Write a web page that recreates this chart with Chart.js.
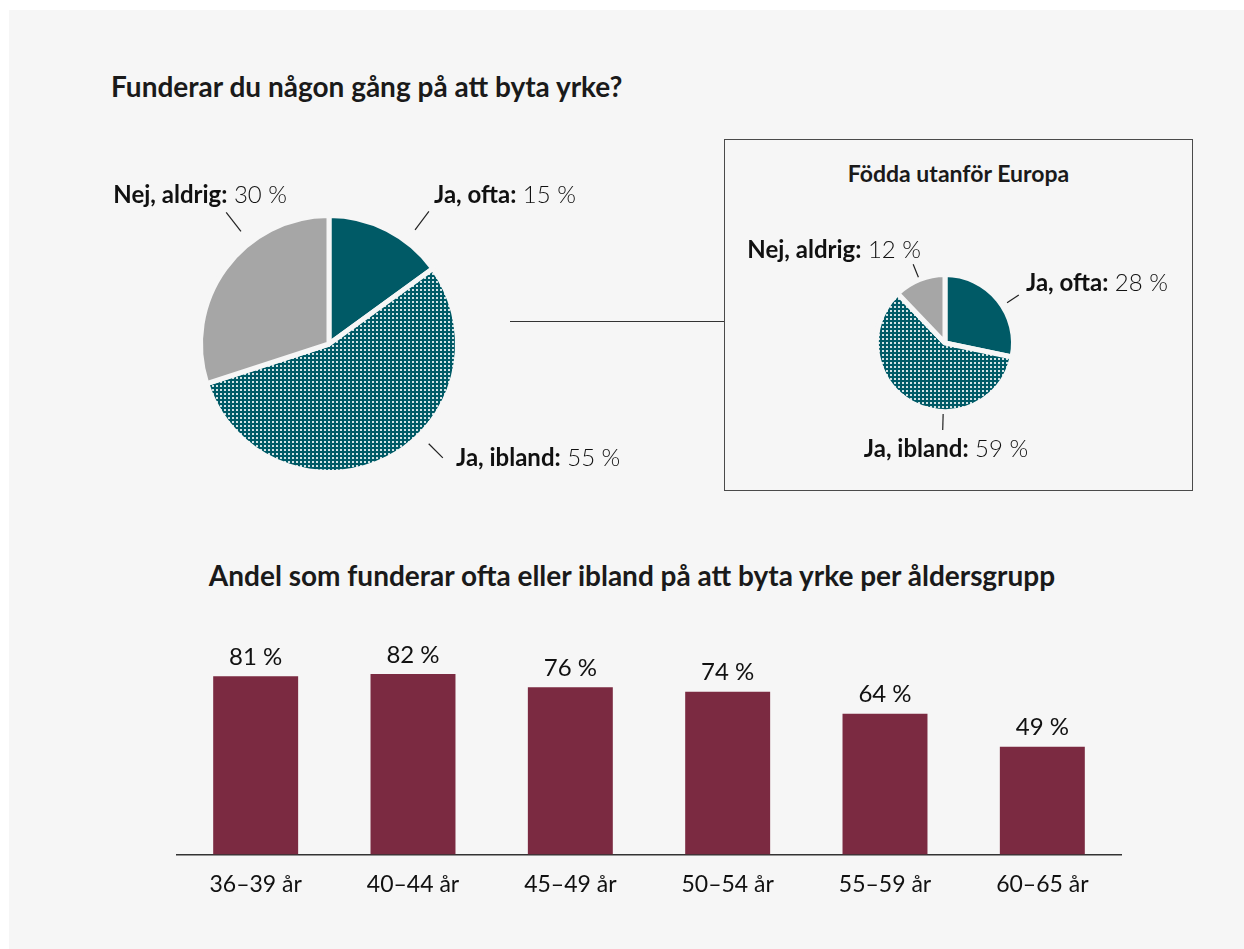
<!DOCTYPE html>
<html lang="sv">
<head>
<meta charset="utf-8">
<script src="https://cdn.jsdelivr.net/npm/chart.js@4.4.1/dist/chart.umd.min.js"></script>
<style>
  html, body { margin:0; padding:0; background:#ffffff; width:1244px; height:949px; overflow:hidden; }
  body { font-family: Lato, "Open Sans", sans-serif; color:#1a1a1a; }
  #bg { position:absolute; left:9px; top:10px; width:1235px; height:939px; background:#f6f6f6; }
  .abs { position:absolute; }
  .title { font-weight:700; font-size:28px; line-height:1.2; white-space:nowrap; }
  #t1 { left:111px; top:70px; }
  #t2 { left:0; width:1264px; text-align:center; top:559px; }
  #box { left:724px; top:139px; width:467px; height:350px; border:1px solid #4a4a4a; }
  #boxTitle { left:724px; width:469px; text-align:center; top:160px; font-weight:700; font-size:23px; line-height:1.2; white-space:nowrap; }
  #conn { left:510px; top:321px; width:214px; height:1px; background:#333; }
</style>
</head>
<body>
<div id="bg"></div>
<div class="abs title" id="t1">Funderar du någon gång på att byta yrke?</div>
<div class="abs" id="conn"></div>
<div class="abs" id="box"></div>
<div class="abs" id="boxTitle">Födda utanför Europa</div>
<div class="abs title" id="t2">Andel som funderar ofta eller ibland på att byta yrke per åldersgrupp</div>
<canvas class="abs" id="pie1" width="620" height="360" style="left:19px;top:164px"></canvas>
<canvas class="abs" id="pie2" width="480" height="300" style="left:705px;top:193px"></canvas>
<canvas class="abs" id="bars" width="1020" height="320" style="left:140px;top:600px"></canvas>
<script>
// ---- Data ----
const pieCategories = ["Ja, ofta", "Ja, ibland", "Nej, aldrig"];
const pieAllValues = [15, 55, 30];
const pieEuropeValues = [28, 59, 12];
const ageGroups = ["36–39 år", "40–44 år", "45–49 år", "50–54 år", "55–59 år", "60–65 år"];
const ageValues = [81, 82, 76, 74, 64, 49];

// ---- Styles ----
const TEAL = "#005a66";
const GRAY = "#a6a6a6";
const MAROON = "#7b2a41";
const BG = "#f6f6f6";
const FONT = 'Lato, "Open Sans", sans-serif';
const LABEL_SIZE = 24;

function makePattern() {
  const c = document.createElement("canvas");
  c.width = 4; c.height = 4;
  const g = c.getContext("2d");
  g.fillStyle = TEAL; g.fillRect(0, 0, 4, 4);
  g.fillStyle = "#d4e3e5"; g.fillRect(1, 1, 2, 2);
  return g.createPattern(c, "repeat");
}
const dotPattern = makePattern();

// label layout per slice: leader angle (deg clockwise from top), leader radii, text offset from centre, alignment
const pie1Layout = [
  { angle: 37, r0: 143, r1: 166, dx: 105, dy: -149, align: "left" },
  { angle: 135, r0: 141, r1: 161, dx: 127, dy: 114, align: "left" },
  { angle: 322, r0: 143, r1: 167, dx: -42, dy: -149, align: "right" }
];
const pie2Layout = [
  { angle: 57, r0: 74, r1: 88, dx: 81, dy: -60, align: "left" },
  { angle: 181.5, r0: 71, r1: 87, dx: 1, dy: 106, align: "center" },
  { angle: 338, r0: 71, r1: 85, dx: -24, dy: -93, align: "right" }
];

function labelPlugin(layout) {
  return {
    id: "pieLabels",
    afterDraw(chart) {
      const ctx = chart.ctx;
      const meta = chart.getDatasetMeta(0);
      const vals = chart.data.datasets[0].data;
      meta.data.forEach((arc, i) => {
        const L = layout[i];
        const cx = arc.x, cy = arc.y;
        const a = L.angle * Math.PI / 180;
        ctx.save();
        ctx.strokeStyle = "#222";
        ctx.lineWidth = 1.2;
        ctx.beginPath();
        ctx.moveTo(cx + L.r0 * Math.sin(a), cy - L.r0 * Math.cos(a));
        ctx.lineTo(cx + L.r1 * Math.sin(a), cy - L.r1 * Math.cos(a));
        ctx.stroke();
        const bold = chart.data.labels[i] + ":";
        const reg = " " + vals[i] + " %";
        ctx.textBaseline = "middle";
        ctx.textAlign = "left";
        ctx.font = "700 " + LABEL_SIZE + "px " + FONT;
        const wb = ctx.measureText(bold).width;
        ctx.font = "300 " + LABEL_SIZE + "px " + FONT;
        const wr = ctx.measureText(reg).width;
        const total = wb + wr;
        let x = cx + L.dx;
        if (L.align === "right") x -= total;
        else if (L.align === "center") x -= total / 2;
        const y = cy + L.dy;
        ctx.fillStyle = "#111";
        ctx.font = "700 " + LABEL_SIZE + "px " + FONT;
        ctx.fillText(bold, x, y);
        ctx.font = "300 " + LABEL_SIZE + "px " + FONT;
        ctx.fillText(reg, x + wb, y);
        ctx.restore();
      });
    }
  };
}

function pieConfig(values, radius, layout) {
  return {
    type: "pie",
    data: {
      labels: pieCategories,
      datasets: [{
        data: values,
        backgroundColor: [TEAL, dotPattern, GRAY],
        borderColor: BG,
        borderWidth: 5
      }]
    },
    options: {
      responsive: false,
      animation: false,
      devicePixelRatio: 1,
      radius: radius,
      rotation: 0,
      layout: { padding: 0 },
      plugins: { legend: { display: false }, tooltip: { enabled: false } }
    },
    plugins: [labelPlugin(layout)]
  };
}

new Chart(document.getElementById("pie1"), pieConfig(pieAllValues, 128.5, pie1Layout));
new Chart(document.getElementById("pie2"), pieConfig(pieEuropeValues, 68.5, pie2Layout));

const barValueLabels = {
  id: "barValueLabels",
  afterDatasetsDraw(chart) {
    const ctx = chart.ctx;
    const meta = chart.getDatasetMeta(0);
    ctx.save();
    ctx.font = "400 24px " + FONT;
    ctx.fillStyle = "#111";
    ctx.textAlign = "center";
    ctx.textBaseline = "middle";
    meta.data.forEach((bar, i) => {
      ctx.fillText(chart.data.datasets[0].data[i] + " %", bar.x, bar.y - 19);
    });
    ctx.restore();
  }
};

new Chart(document.getElementById("bars"), {
  type: "bar",
  data: {
    labels: ageGroups,
    datasets: [{ data: ageValues, backgroundColor: MAROON, barPercentage: 0.54, categoryPercentage: 1 }]
  },
  options: {
    responsive: false,
    animation: false,
    devicePixelRatio: 1,
    layout: { padding: { left: 37, right: 39, top: 34.5, bottom: 6 } },
    plugins: { legend: { display: false }, tooltip: { enabled: false } },
    scales: {
      y: { display: false, min: 0, max: 100 },
      x: {
        grid: { display: false, drawTicks: false },
        border: { display: true, color: "#333", width: 1.5 },
        ticks: { color: "#111", font: { family: FONT, size: 23, weight: "400" }, padding: 16 }
      }
    }
  },
  plugins: [barValueLabels]
});
</script>
</body>
</html>
